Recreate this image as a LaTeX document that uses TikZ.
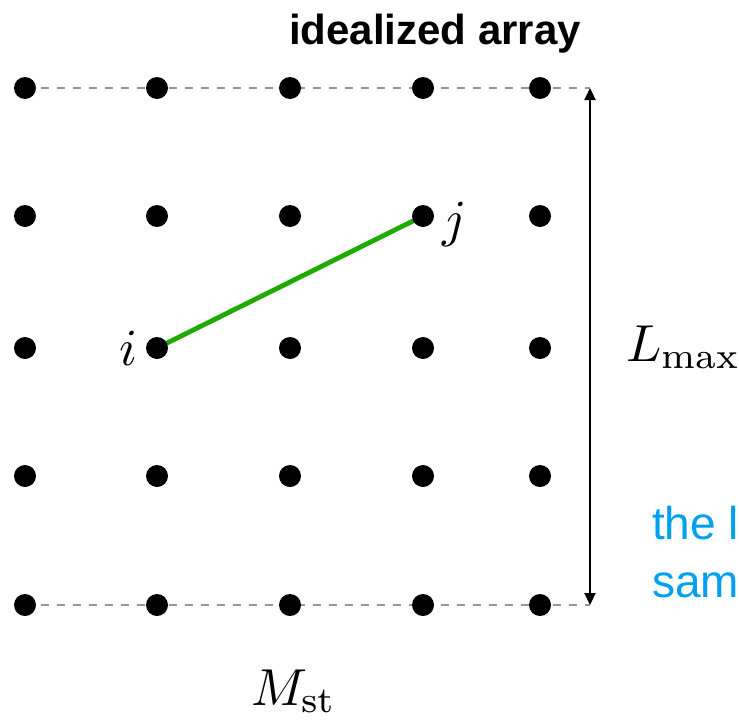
\documentclass[tikz,border=0pt]{standalone}
\usepackage{fontspec}
\setsansfont{Liberation Sans}
\usetikzlibrary{arrows.meta}
\definecolor{grn}{RGB}{30,170,0}
\definecolor{skyb}{RGB}{0,160,240}
\definecolor{dashgray}{RGB}{150,150,150}
\begin{document}
\begin{tikzpicture}[x=1pt,y=-1pt,
  dot/.style={circle,fill=black,inner sep=0pt,minimum size=22pt},
  gridline/.style={draw=dashgray,line width=1.2pt,dash pattern=on 8pt off 8pt},
  link/.style={draw=grn,line width=4.8pt},
  dim/.style={draw=black,line width=2.2pt,{Triangle[length=12pt,width=11pt]}-{Triangle[length=12pt,width=11pt]}},
  mathlbl/.style={inner sep=0pt,scale=5.2,anchor=base west},
  title/.style={inner sep=0pt,anchor=base west,font=\sffamily\bfseries\fontsize{42}{48}\selectfont},
  note/.style={inner sep=0pt,anchor=base west,text=skyb,font=\sffamily\fontsize{46}{52}\selectfont}]
\useasboundingbox (0,0) rectangle (739,723);
\clip (0,0) rectangle (739,723);
% coordinates
\foreach \c/\x in {1/25,2/157,3/290,4/423,5/540}{
  \foreach \r/\y in {1/88,2/216,3/348,4/476,5/605}{
    \coordinate (p\c\r) at (\x,\y);
  }
}
\coordinate (atop) at (590,88);
\coordinate (abot) at (590,605);
% dashed lines
\draw[gridline] (p11) -- (atop);
\draw[gridline] (p15) -- (abot);
% vertical dimension arrow
\draw[dim] (atop) -- (abot);
% green link
\draw[link] (p23) -- (p42);
% dots
\foreach \c in {1,...,5}{
  \foreach \r in {1,...,5}{
    \node[dot] (d\c\r) at (p\c\r) {};
  }
}
% labels
\node[title] (ttl) at (289,44) {idealized array};
\node[mathlbl] (li) at (118,365) {$i$};
\node[mathlbl] (lj) at (441,236) {$j$};
\node[mathlbl] (lL) at (625,361) {$L_{\max}$};
\node[mathlbl] (lM) at (250,705) {$M_{\mathrm{st}}$};
\node[note] (n1) at (652,539) {the l};
\node[note] (n2) at (652,597) {sam};
\end{tikzpicture}
\end{document}
